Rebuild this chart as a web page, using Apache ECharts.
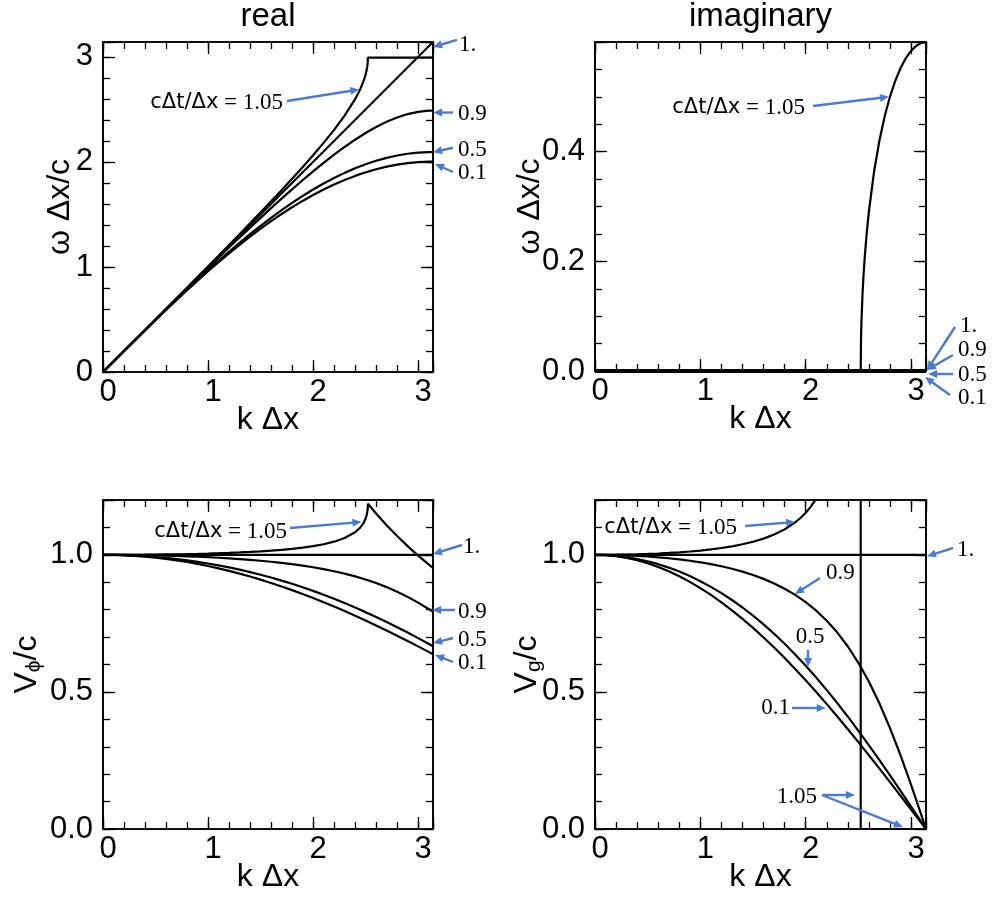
<!DOCTYPE html>
<html>
<head>
<meta charset="utf-8">
<title>Numerical dispersion of the leapfrog scheme</title>
<script src="https://cdn.jsdelivr.net/npm/echarts@6/dist/echarts.min.js"></script>
<style>
  html, body { margin: 0; padding: 0; background: #fff; }
  #chart { width: 992px; height: 902px; }
</style>
</head>
<body>
<div id="chart"></div>
<script>
// Dispersion of the 1-D staggered leapfrog (Yee) scheme for several Courant
// numbers cΔt/Δx: real and imaginary frequency, phase and group velocity
// against the normalised wavenumber kΔx (0 … π).

// ---- wavenumber samples -------------------------------------------------
const kGrid = [0, 0.1, 0.2, 0.3, 0.4, 0.5, 0.6, 0.7, 0.8, 0.9, 1.0, 1.1, 1.2,
  1.3, 1.4, 1.5, 1.6, 1.7, 1.8, 1.9, 2.0, 2.1, 2.2, 2.3, 2.4, 2.5, 2.6, 2.7,
  2.8, 2.9, 3.0, 3.1, 3.14159];
const kEnds = [0, 3.14159];

// ---- real part of ω Δx / c ----------------------------------------------
const omegaRe01 = [0, 0.09996, 0.19967, 0.29889, 0.39736, 0.49486, 0.59113,
  0.68593, 0.77903, 0.87021, 0.95922, 1.04585, 1.12988, 1.21111, 1.28933,
  1.36433, 1.43594, 1.50397, 1.56826, 1.62863, 1.68493, 1.73702, 1.78477,
  1.82806, 1.86678, 1.90082, 1.93010, 1.95454, 1.97409, 1.98869, 1.99830,
  2.00290, 2.00335];
const omegaRe05 = [0, 0.09997, 0.19975, 0.29916, 0.39799, 0.49608, 0.59321,
  0.68920, 0.78384, 0.87694, 0.96828, 1.05766, 1.14485, 1.22965, 1.31183,
  1.39115, 1.46741, 1.54035, 1.60976, 1.67539, 1.73702, 1.79443, 1.84739,
  1.89570, 1.93914, 1.97755, 2.01073, 2.03855, 2.06087, 2.07759, 2.08861,
  2.09390, 2.09440];
const omegaRe09 = [0, 0.09999, 0.19994, 0.29978, 0.39949, 0.49899, 0.59824,
  0.69718, 0.79573, 0.89384, 0.99141, 1.08837, 1.18460, 1.27998, 1.37440,
  1.46767, 1.55963, 1.65006, 1.73870, 1.82525, 1.90935, 1.99057, 2.06840,
  2.14226, 2.21142, 2.27509, 2.33235, 2.38218, 2.42356, 2.45545, 2.47694,
  2.48739, 2.48838];
const omegaRe10 = [0, 3.14159];
// cΔt/Δx = 1.05: frequency saturates at π/1.05 beyond the cut-off kΔx ≈ 2.522
const kRe105 = [0, 0.1, 0.2, 0.3, 0.4, 0.5, 0.6, 0.7, 0.8, 0.9, 1.0, 1.1, 1.2,
  1.3, 1.4, 1.5, 1.6, 1.7, 1.8, 1.9, 2.0, 2.1, 2.2, 2.3, 2.4, 2.45, 2.48, 2.5,
  2.51, 2.515, 2.52, 2.5219, 3.14159];
const omegaRe105 = [0, 0.10000, 0.20003, 0.30012, 0.40028, 0.50055, 0.60096,
  0.70155, 0.80236, 0.90343, 1.00481, 1.10658, 1.20881, 1.31159, 1.41505,
  1.51935, 1.62467, 1.73129, 1.83958, 1.95008, 2.06358, 2.18134, 2.30558,
  2.44067, 2.59760, 2.69472, 2.76768, 2.83109, 2.87386, 2.90221, 2.94500,
  2.99199, 2.99199];

// ---- imaginary part of ω Δx / c -----------------------------------------
const omegaImStable = [0, 0];          // 0.1, 0.5, 0.9 and 1 stay real
const kIm105 = [0, 2.5219, 2.525, 2.53, 2.54, 2.55, 2.56, 2.58, 2.6, 2.65,
  2.7, 2.75, 2.8, 2.85, 2.9, 2.95, 3.0, 3.05, 3.1, 3.12, 3.14159];
const omegaIm105 = [0, 0, 0.05992, 0.09668, 0.14393, 0.17859, 0.20709,
  0.25361, 0.29154, 0.36525, 0.42086, 0.46493, 0.50051, 0.52931, 0.55240,
  0.57047, 0.58399, 0.59327, 0.59850, 0.59949, 0.59987];

// ---- phase velocity V_ϕ / c ---------------------------------------------
const vPhase01 = [1, 0.99960, 0.99835, 0.99630, 0.99340, 0.98972, 0.98522,
  0.97990, 0.97379, 0.96690, 0.95922, 0.95077, 0.94157, 0.93162, 0.92095,
  0.90955, 0.89746, 0.88469, 0.87126, 0.85717, 0.84247, 0.82715, 0.81126,
  0.79481, 0.77783, 0.76033, 0.74235, 0.72390, 0.70503, 0.68576, 0.66610,
  0.64610, 0.63769];
const vPhase05 = [1, 0.99968, 0.99875, 0.99718, 0.99499, 0.99216, 0.98869,
  0.98457, 0.97980, 0.97438, 0.96828, 0.96150, 0.95404, 0.94589, 0.93702,
  0.92744, 0.91713, 0.90609, 0.89431, 0.88178, 0.86851, 0.85449, 0.83972,
  0.82422, 0.80798, 0.79102, 0.77336, 0.75502, 0.73603, 0.71641, 0.69620,
  0.67545, 0.66667];
const vPhase09 = [1, 0.99992, 0.99968, 0.99928, 0.99872, 0.99798, 0.99707,
  0.99597, 0.99467, 0.99316, 0.99141, 0.98942, 0.98716, 0.98460, 0.98171,
  0.97845, 0.97477, 0.97062, 0.96594, 0.96066, 0.95467, 0.94789, 0.94018,
  0.93142, 0.92143, 0.91004, 0.89706, 0.88229, 0.86556, 0.84670, 0.82565,
  0.80238, 0.79207];
const vPhase10 = [1, 1];
const kPhase105 = [0, 0.1, 0.2, 0.3, 0.4, 0.5, 0.6, 0.7, 0.8, 0.9, 1.0, 1.1,
  1.2, 1.3, 1.4, 1.5, 1.6, 1.7, 1.8, 1.9, 2.0, 2.1, 2.2, 2.3, 2.4, 2.45, 2.48,
  2.5, 2.51, 2.515, 2.52, 2.5219, 2.6, 2.7, 2.8, 2.9, 3.0, 3.1, 3.14159];
const vPhase105 = [1, 1.00004, 1.00017, 1.00039, 1.00069, 1.00110, 1.00160,
  1.00221, 1.00294, 1.00381, 1.00481, 1.00598, 1.00734, 1.00892, 1.01075,
  1.01290, 1.01542, 1.01840, 1.02199, 1.02636, 1.03179, 1.03873, 1.04799,
  1.06116, 1.08233, 1.09989, 1.11600, 1.13244, 1.14497, 1.15396, 1.16865,
  1.18640, 1.15077, 1.10815, 1.06857, 1.03172, 0.99733, 0.96516, 0.95238];

// ---- group velocity V_g / c ---------------------------------------------
const vGroup01 = [1, 0.99876, 0.99505, 0.98888, 0.98026, 0.96921, 0.95575,
  0.93993, 0.92176, 0.90130, 0.87859, 0.85369, 0.82665, 0.79754, 0.76643,
  0.73339, 0.69850, 0.66185, 0.62352, 0.58361, 0.54222, 0.49945, 0.45540,
  0.41019, 0.36394, 0.31675, 0.26875, 0.22005, 0.17080, 0.12110, 0.07109,
  0.02090, 0];
const vGroup05 = [1, 0.99906, 0.99625, 0.99154, 0.98494, 0.97641, 0.96594,
  0.95349, 0.93903, 0.92253, 0.90394, 0.88322, 0.86033, 0.83524, 0.80790,
  0.77829, 0.74637, 0.71213, 0.67558, 0.63672, 0.59558, 0.55221, 0.50668,
  0.45909, 0.40955, 0.35822, 0.30526, 0.25089, 0.19532, 0.13881, 0.08161,
  0.02401, 0];
const vGroup09 = [1, 0.99976, 0.99905, 0.99784, 0.99612, 0.99386, 0.99103,
  0.98758, 0.98344, 0.97854, 0.97280, 0.96610, 0.95830, 0.94924, 0.93873,
  0.92652, 0.91233, 0.89579, 0.87648, 0.85388, 0.82736, 0.79620, 0.75953,
  0.71636, 0.66563, 0.60624, 0.53719, 0.45781, 0.36793, 0.26827, 0.16058,
  0.04766, 0];
const vGroup10 = [1, 1];
// diverges at the cut-off, real part vanishes above it
const kGroup105 = [0, 0.1, 0.2, 0.3, 0.4, 0.5, 0.6, 0.7, 0.8, 0.9, 1.0, 1.1,
  1.2, 1.3, 1.4, 1.5, 1.6, 1.7, 1.8, 1.9, 1.95, 2.0, 2.05, 2.1, 2.2, 2.3, 2.4,
  2.5, 2.5219, 2.5219, 3.14159];
const vGroup105 = [1, 1.00013, 1.00052, 1.00117, 1.00211, 1.00336, 1.00494,
  1.00690, 1.00929, 1.01218, 1.01566, 1.01984, 1.02489, 1.03100, 1.03847,
  1.04769, 1.05920, 1.07385, 1.09289, 1.11834, 1.13445, 1.15364, 1.17679,
  1.20518, 1.28636, 1.43117, 1.76264, 3.73746, 50, 0, 0];

// ---- panel layout --------------------------------------------------------
const SANS = '"Liberation Sans", Arial, Helvetica, sans-serif';
const SERIF = '"Liberation Serif", "Times New Roman", serif';
const INK = '#000';
const ARROW_BLUE = '#4a7bd3';
const MAJOR_LEN = 12, MINOR_LEN = 7;

const panels = [
  { rect: { left: 103, top: 42, width: 330, height: 330 },
    yMax: Math.PI, yStep: 1, yMinor: 0.2, yLabelMax: 3, yDigits: 0,
    yName: 'ω Δx/c', yNameGap: 27 },
  { rect: { left: 595, top: 42, width: 331, height: 329 },
    yMax: 0.6, yStep: 0.2, yMinor: 0.05, yLabelMax: 0.4, yDigits: 1,
    yName: 'ω Δx/c', yNameGap: 49 },
  { rect: { left: 103, top: 500, width: 330, height: 329 },
    yMax: 1.2, yStep: 0.5, yMinor: 0.1, yLabelMax: 1.0, yDigits: 1,
    yName: 'V{sub|ϕ}/c', yNameGap: 58 },
  { rect: { left: 595, top: 500, width: 331, height: 329 },
    yMax: 1.2, yStep: 0.5, yMinor: 0.1, yLabelMax: 1.0, yDigits: 1,
    yName: 'V{sub|g}/c', yNameGap: 50 }
];

function labelFormatter(step, maxLabel, digits) {
  return function (v) {
    const r = v / step;
    if (Math.abs(r - Math.round(r)) > 1e-6 || v > maxLabel + 1e-9) return '';
    return v.toFixed(digits);
  };
}

function frameAxis(g, position, max, interval, tickLen, extra) {
  return Object.assign({
    type: 'value', gridIndex: g, position: position,
    min: 0, max: max, interval: interval,
    axisLine: { show: true, onZero: false, lineStyle: { color: INK, width: 1.6 } },
    axisTick: { show: true, inside: true, length: tickLen,
                lineStyle: { color: INK, width: 1.3 } },
    axisLabel: { show: false },
    splitLine: { show: false },
    minorTick: { show: false },
    minorSplitLine: { show: false },
    axisPointer: { show: false },
    silent: true
  }, extra || {});
}

const option = {
  animation: false,
  backgroundColor: '#fff',
  grid: panels.map(p => Object.assign({ outerBoundsMode: 'none', containLabel: false }, p.rect)),
  xAxis: [],
  yAxis: [],
  series: []
};

panels.forEach((p, g) => {
  option.xAxis.push(
    frameAxis(g, 'bottom', Math.PI, 1, MAJOR_LEN, {
      axisLabel: { show: true, margin: 5, fontSize: 31, fontFamily: SANS, color: INK,
                   padding: [0, 0, 0, 10], formatter: labelFormatter(1, 3, 0) },
      name: 'k Δx', nameLocation: 'middle', nameGap: 32, nameMoveOverlap: false,
      nameTextStyle: { fontSize: 32, fontFamily: SANS, color: INK }
    }),
    frameAxis(g, 'bottom', Math.PI, 0.2, MINOR_LEN),
    frameAxis(g, 'top', Math.PI, 1, MAJOR_LEN),
    frameAxis(g, 'top', Math.PI, 0.2, MINOR_LEN)
  );
  option.yAxis.push(
    frameAxis(g, 'left', p.yMax, p.yStep, MAJOR_LEN, {
      axisLabel: { show: true, margin: 10, fontSize: 31, fontFamily: SANS, color: INK,
                   formatter: labelFormatter(p.yStep, p.yLabelMax, p.yDigits) },
      name: p.yName, nameLocation: 'middle', nameGap: p.yNameGap, nameMoveOverlap: false,
      nameTextStyle: { fontSize: 32, fontFamily: SANS, color: INK,
        rich: { sub: { fontSize: 21, fontFamily: SANS, color: INK,
                       verticalAlign: 'bottom', padding: [14, 0, 0, 0] } } }
    }),
    frameAxis(g, 'left', p.yMax, p.yMinor, MINOR_LEN),
    frameAxis(g, 'right', p.yMax, p.yStep, MAJOR_LEN),
    frameAxis(g, 'right', p.yMax, p.yMinor, MINOR_LEN)
  );
});

function curve(g, name, ks, vs, width) {
  return {
    type: 'line', name: name, xAxisIndex: g * 4, yAxisIndex: g * 4,
    data: ks.map((k, i) => [k, vs[i]]),
    showSymbol: false, symbol: 'none', clip: true, silent: true,
    lineStyle: { color: INK, width: width || 2.2 }
  };
}

option.series.push(
  // real ω
  curve(0, 'S=0.1', kGrid, omegaRe01),
  curve(0, 'S=0.5', kGrid, omegaRe05),
  curve(0, 'S=0.9', kGrid, omegaRe09),
  curve(0, 'S=1', kEnds, omegaRe10),
  curve(0, 'S=1.05', kRe105, omegaRe105),
  // imaginary ω
  curve(1, 'S=0.1', kEnds, omegaImStable, 3.4),
  curve(1, 'S=0.5', kEnds, omegaImStable, 3.4),
  curve(1, 'S=0.9', kEnds, omegaImStable, 3.4),
  curve(1, 'S=1', kEnds, omegaImStable, 3.4),
  curve(1, 'S=1.05', kIm105, omegaIm105),
  // phase velocity
  curve(2, 'S=0.1', kGrid, vPhase01),
  curve(2, 'S=0.5', kGrid, vPhase05),
  curve(2, 'S=0.9', kGrid, vPhase09),
  curve(2, 'S=1', kEnds, vPhase10),
  curve(2, 'S=1.05', kPhase105, vPhase105),
  // group velocity
  curve(3, 'S=0.1', kGrid, vGroup01),
  curve(3, 'S=0.5', kGrid, vGroup05),
  curve(3, 'S=0.9', kGrid, vGroup09),
  curve(3, 'S=1', kEnds, vGroup10),
  curve(3, 'S=1.05', kGroup105, vGroup105)
);

const chart = echarts.init(document.getElementById('chart'), null, { renderer: 'canvas' });
chart.setOption(option);

// ---- callouts: label anchor and arrows (tail → head) in axis units --------
const RATIO = '{s|cΔt/Δx} = 1.05';
const callouts = [
  // real ω
  { g: 0, text: RATIO, at: [1.714, 2.561], align: 'right',
    arrows: [[[1.752, 2.580], [2.44, 2.69]]] },
  { g: 0, text: '1.', at: [3.389, 3.113], align: 'left',
    arrows: [[[3.370, 3.161], [3.142, 3.094]]] },
  { g: 0, text: '0.9', at: [3.380, 2.456], align: 'left',
    arrows: [[[3.332, 2.470], [3.142, 2.470]]] },
  { g: 0, text: '0.5', at: [3.380, 2.113], align: 'left',
    arrows: [[[3.332, 2.135], [3.142, 2.092]]] },
  { g: 0, text: '0.1', at: [3.380, 1.894], align: 'left',
    arrows: [[[3.332, 1.904], [3.161, 1.980]]] },
  // imaginary ω
  { g: 1, text: RATIO, at: [1.993, 0.4797], align: 'right',
    arrows: [[[2.069, 0.4833], [2.79, 0.500]]] },
  { g: 1, text: '1.', at: [3.464, 0.0821], align: 'left',
    arrows: [[[3.417, 0.0802], [3.151, 0.0018]]] },
  { g: 1, text: '0.9', at: [3.445, 0.0383], align: 'left',
    arrows: [[[3.398, 0.0292], [3.151, 0.0018]]] },
  { g: 1, text: '0.5', at: [3.445, -0.0073], align: 'left',
    arrows: [[[3.398, -0.0055], [3.161, -0.0055]]] },
  { g: 1, text: '0.1', at: [3.445, -0.0492], align: 'left',
    arrows: [[[3.369, -0.0438], [3.132, -0.0109]]] },
  // phase velocity
  { g: 2, text: RATIO, at: [1.752, 1.0833], align: 'right',
    arrows: [[[1.780, 1.0979], [2.46, 1.120]]] },
  { g: 2, text: '1.', at: [3.427, 1.0286], align: 'left',
    arrows: [[[3.418, 1.0359], [3.142, 1.0030]]] },
  { g: 2, text: '0.9', at: [3.380, 0.7915], align: 'left',
    arrows: [[[3.351, 0.7988], [3.132, 0.7988]]] },
  { g: 2, text: '0.5', at: [3.380, 0.6894], align: 'left',
    arrows: [[[3.332, 0.6966], [3.142, 0.6784]]] },
  { g: 2, text: '0.1', at: [3.380, 0.6055], align: 'left',
    arrows: [[[3.332, 0.6091], [3.161, 0.6346]]] },
  // group velocity
  { g: 3, text: RATIO, at: [1.348, 1.0979], align: 'right',
    arrows: [[[1.424, 1.1052], [1.90, 1.120]]] },
  { g: 3, text: '1.', at: [3.436, 1.0176], align: 'left',
    arrows: [[[3.398, 1.0249], [3.151, 0.9950]]] },
  { g: 3, text: '0.9', at: [2.192, 0.9337], align: 'left',
    arrows: [[[2.135, 0.9155], [1.898, 0.8571]]] },
  { g: 3, text: '0.5', at: [2.041, 0.7003], align: 'center',
    arrows: [[[2.022, 0.6529], [2.022, 0.5909]]] },
  { g: 3, text: '0.1', at: [1.851, 0.4413], align: 'right',
    arrows: [[[1.870, 0.4413], [2.190, 0.4413]]] },
  { g: 3, text: '1.05', at: [2.107, 0.1167], align: 'right',
    arrows: [[[2.154, 0.1240], [2.468, 0.1240]],
             [[2.154, 0.1240], [2.923, 0.0073]]] }
];

const titles = [
  { g: 0, text: 'real' },
  { g: 1, text: 'imaginary' }
];

function arrowShapes(p0, p1) {
  const dx = p1[0] - p0[0], dy = p1[1] - p0[1];
  const len = Math.hypot(dx, dy) || 1;
  const ux = dx / len, uy = dy / len;
  const headLen = 9, headHalf = 4;
  const bx = p1[0] - ux * headLen, by = p1[1] - uy * headLen;
  return [
    { type: 'line', silent: true, z: 60,
      shape: { x1: p0[0], y1: p0[1], x2: bx + ux, y2: by + uy },
      style: { stroke: ARROW_BLUE, lineWidth: 2.4, lineCap: 'butt' } },
    { type: 'polygon', silent: true, z: 60,
      shape: { points: [[p1[0], p1[1]], [bx - uy * headHalf, by + ux * headHalf],
                        [bx + uy * headHalf, by - ux * headHalf]] },
      style: { fill: ARROW_BLUE } }
  ];
}

function drawCallouts() {
  const els = [];
  titles.forEach(t => {
    const r = panels[t.g].rect;
    els.push({ type: 'text', silent: true, z: 60, x: r.left + r.width / 2, y: 17,
      style: { text: t.text, align: 'center', verticalAlign: 'middle',
               fontSize: 33, fontFamily: SANS, fill: INK } });
  });
  callouts.forEach(c => {
    const finder = { xAxisIndex: c.g * 4, yAxisIndex: c.g * 4 };
    const at = chart.convertToPixel(finder, c.at);
    els.push({ type: 'text', silent: true, z: 60, x: at[0], y: at[1],
      style: { text: c.text, align: c.align, verticalAlign: 'middle',
               fontSize: 23, fontFamily: SERIF, fill: INK,
               rich: { s: { fontSize: 21, fontFamily: '"DejaVu Sans", sans-serif', fill: INK } } } });
    c.arrows.forEach(a => {
      const tail = chart.convertToPixel(finder, a[0]);
      const head = chart.convertToPixel(finder, a[1]);
      arrowShapes(tail, head).forEach(e => els.push(e));
    });
  });
  chart.setOption({ graphic: els });
}
drawCallouts();
</script>
</body>
</html>
